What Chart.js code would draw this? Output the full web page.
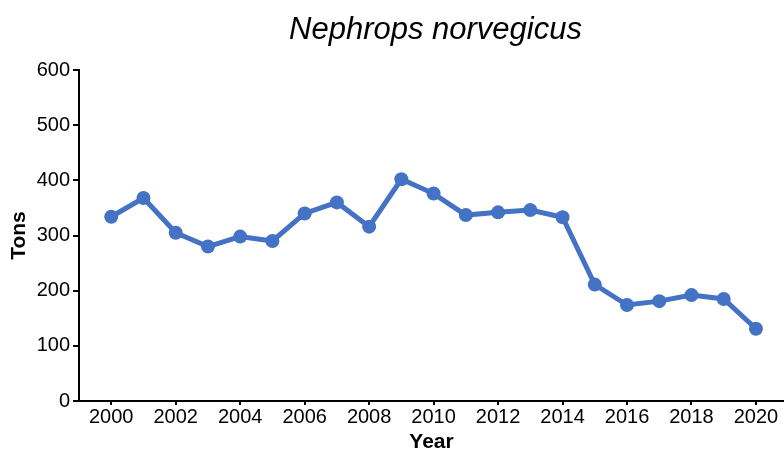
<!DOCTYPE html>
<html>
<head>
<meta charset="utf-8">
<script src="https://cdn.jsdelivr.net/npm/chart.js@4"></script>
<style>
html,body{margin:0;padding:0;background:#fff;}
#wrap{width:784px;height:450px;}
</style>
</head>
<body>
<div id="wrap"><canvas id="c" width="784" height="450"></canvas></div>
<script>
const years = [2000,2001,2002,2003,2004,2005,2006,2007,2008,2009,2010,2011,2012,2013,2014,2015,2016,2017,2018,2019,2020];
const tons = [334,368,305,280,298,290,340,360,316,402,376,337,342,346,333,211,174,181,192,185,131];
const xTickValues = [2000,2002,2004,2006,2008,2010,2012,2014,2016,2018,2020];
const yTickValues = [0,100,200,300,400,500,600];
const titleText = 'Nephrops norvegicus';

const blue = '#4472c4';
const FONT = '"Liberation Sans", Arial, sans-serif';

const centerTitle = {
  id: 'centerTitle',
  afterDraw(chart) {
    const ctx = chart.ctx, a = chart.chartArea;
    ctx.save();
    ctx.font = 'italic 31px ' + FONT;
    ctx.fillStyle = '#000';
    ctx.textAlign = 'center';
    ctx.textBaseline = 'middle';
    ctx.fillText(titleText, (a.left + a.right) / 2 + 4, 30);
    ctx.restore();
  }
};

new Chart(document.getElementById('c'), {
  type: 'line',
  data: {
    datasets: [{
      data: years.map((y,i)=>({x:y, y:tons[i]})),
      borderColor: blue,
      backgroundColor: blue,
      borderWidth: 5,
      pointRadius: 7,
      pointHoverRadius: 7,
      pointBorderWidth: 0,
      tension: 0
    }]
  },
  plugins: [centerTitle],
  options: {
    responsive: false,
    animation: false,
    layout: {autoPadding: false, padding: {left: 0, right: 0, top: 70, bottom: 0}},
    plugins: {
      legend: {display: false},
      tooltip: {enabled: false},
      title: {display: false}
    },
    scales: {
      x: {
        type: 'linear',
        min: 1999,
        max: 2020.87,
        afterFit: s => { s.height = 49; s.paddingRight = 0; s.paddingLeft = 0; },
        afterBuildTicks: s => { s.ticks = xTickValues.map(v=>({value:v})); },
        ticks: {
          color: '#000',
          font: {family: FONT, size: 20},
          padding: 0,
          maxRotation: 0,
          autoSkip: false,
          callback: v => String(v)
        },
        grid: {display: true, drawOnChartArea: false, drawTicks: true, tickLength: 4, color: '#000', tickColor: '#000', lineWidth: 2, tickWidth: 2},
        border: {display: true, color: '#000', width: 2},
        title: {display: true, text: 'Year', color: '#000', font: {family: FONT, size: 21, weight: 'bold', lineHeight: 1}, padding: {top: 0, bottom: -3}}
      },
      y: {
        min: 0,
        max: 600,
        afterFit: s => { s.width = 79; },
        afterBuildTicks: s => { s.ticks = yTickValues.map(v=>({value:v})); },
        ticks: {
          color: '#000',
          font: {family: FONT, size: 20},
          padding: 3
        },
        grid: {display: true, drawOnChartArea: false, drawTicks: true, tickLength: 6, color: '#000', tickColor: '#000', lineWidth: 2, tickWidth: 2},
        border: {display: true, color: '#000', width: 2},
        title: {display: true, text: 'Tons', color: '#000', font: {family: FONT, size: 21, weight: 'bold', lineHeight: 1}, padding: {top: 9, bottom: 0}}
      }
    }
  }
});
</script>
</body>
</html>
